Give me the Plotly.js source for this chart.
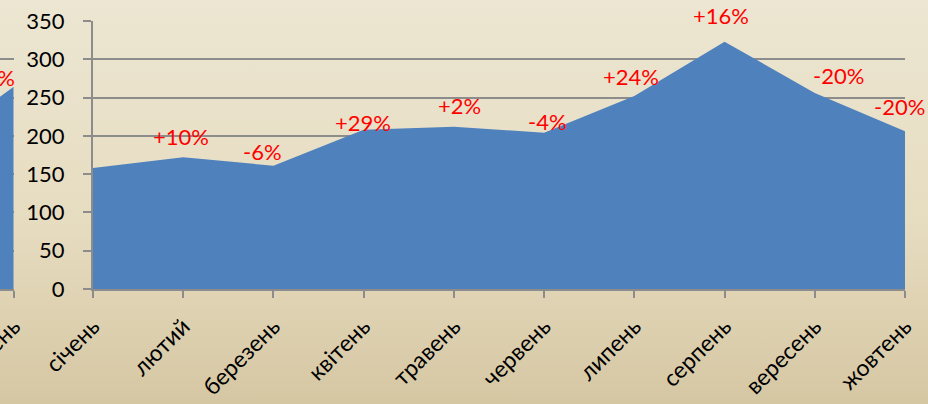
<!DOCTYPE html>
<html>
<head>
<meta charset="utf-8">
<script src="https://cdn.plot.ly/plotly-3.0.1.min.js"></script>
<style>
    html, body {
        margin: 0;
        padding: 0;
        width: 928px;
        height: 404px;
        overflow: hidden;
        background: linear-gradient(to bottom, #ece6d2 0%, #e6dcc0 55%, #d6c7a3 100%);
    }
    #chart {
        width: 928px;
        height: 404px;
    }
</style>
</head>
<body>
<div id="chart"></div>
<script>
// Monthly values (main chart)
const months = ['січень', 'лютий', 'березень', 'квітень', 'травень', 'червень', 'липень', 'серпень', 'вересень', 'жовтень'];
const values = [158, 172, 161, 208, 212, 204, 252, 323, 256, 206];
const changeLabels = ['', '+10%', '-6%', '+29%', '+2%', '-4%', '+24%', '+16%', '-20%', '-20%'];

// Tail end of the neighbouring chart, cut off at the left edge
const prevMonths = ['листопад', 'грудень'];
const prevValues = [179, 264];
const prevLabels = ['', '+47%'];

const yTicks = [0, 50, 100, 150, 200, 250, 300, 350];

// Label offsets in pixels (hand placed in the original)
const labelShiftX = [0, -2, -11, -1, 6, 3, -3, -4, 24, -6];
const labelShiftY = [0, 21, 14, 7, 21, 11, 20, 26, 17, 25];
const prevShiftX = [0, -27];
const prevShiftY = [0, 9];

const FONT = 'Lato, "Open Sans", sans-serif';
const AREA_BLUE = '#4f81bd';
const GRID_GREY = '#8c8c8c';

function buildAnnotations(cats, vals, labels, dx, dy, xref, yref) {
    const notes = [];
    for (let i = 0; i < cats.length; i++) {
        if (!labels[i]) continue;
        notes.push({
            x: cats[i],
            y: vals[i],
            xref: xref,
            yref: yref,
            text: labels[i],
            showarrow: false,
            xshift: dx[i],
            yshift: dy[i],
            font: { family: FONT, size: 22, color: '#ff0000' }
        });
    }
    return notes;
}

function drawChart() {
    const plotLeft = 93;
    const width = 928 - 23;   // paper width after right margin

    const yAxisCommon = {
        range: [0, 350],
        tickvals: yTicks,
        showgrid: true,
        gridcolor: GRID_GREY,
        gridwidth: 2,
        zeroline: false,
        fixedrange: true
    };

    const xAxisCommon = {
        type: 'category',
        showgrid: false,
        showline: true,
        linecolor: GRID_GREY,
        linewidth: 2,
        ticks: 'outside',
        ticklen: 7,
        tickwidth: 2,
        tickcolor: GRID_GREY,
        tickangle: -45,
        tickfont: { family: FONT, size: 23, color: '#000000' },
        ticklabelstandoff: 6,
        fixedrange: true
    };

    const traces = [{
        x: months,
        y: values,
        xaxis: 'x',
        yaxis: 'y',
        type: 'scatter',
        mode: 'lines',
        fill: 'tozeroy',
        fillcolor: AREA_BLUE,
        line: { width: 0, color: AREA_BLUE },
        hoverinfo: 'skip'
    }, {
        x: prevMonths,
        y: prevValues,
        xaxis: 'x2',
        yaxis: 'y2',
        type: 'scatter',
        mode: 'lines',
        fill: 'tozeroy',
        fillcolor: AREA_BLUE,
        line: { width: 0, color: AREA_BLUE },
        hoverinfo: 'skip'
    }];

    const annotations = buildAnnotations(months, values, changeLabels, labelShiftX, labelShiftY, 'x', 'y')
        .concat(buildAnnotations(prevMonths, prevValues, prevLabels, prevShiftX, prevShiftY, 'x2', 'y2'));

    const layout = {
        width: 928,
        height: 404,
        paper_bgcolor: 'rgba(0,0,0,0)',
        plot_bgcolor: 'rgba(0,0,0,0)',
        showlegend: false,
        margin: { l: 0, r: 23, t: 21, b: 115 },
        font: { family: FONT, size: 22, color: '#000000' },
        xaxis: Object.assign({}, xAxisCommon, {
            domain: [plotLeft / width, 1],
            range: [0, months.length - 1],
            anchor: 'y'
        }),
        yaxis: Object.assign({}, yAxisCommon, {
            anchor: 'x',
            showline: true,
            linecolor: GRID_GREY,
            linewidth: 2,
            ticks: 'outside',
            ticklen: 8,
            tickwidth: 2,
            tickcolor: GRID_GREY,
            tickfont: { family: FONT, size: 22, color: '#000000' },
            ticklabelstandoff: 14
        }),
        xaxis2: Object.assign({}, xAxisCommon, {
            domain: [0, 13.7 / width],
            range: [1 - 13.7 / 90.2, 1],
            anchor: 'y2'
        }),
        yaxis2: Object.assign({}, yAxisCommon, {
            anchor: 'x2',
            showline: false,
            showticklabels: false,
            ticks: ''
        }),
        annotations: annotations
    };

    Plotly.newPlot('chart', traces, layout, { staticPlot: true, displayModeBar: false });
}

drawChart();
</script>
</body>
</html>
